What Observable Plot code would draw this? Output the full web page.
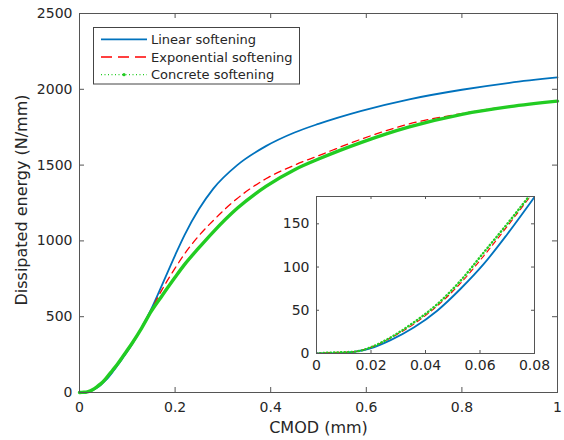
<!DOCTYPE html>
<html>
<head>
<meta charset="utf-8">
<script src="https://cdn.jsdelivr.net/npm/d3@7"></script>
<script src="https://cdn.jsdelivr.net/npm/@observablehq/plot@0.6"></script>
<style>
  html, body { margin: 0; padding: 0; background: white; }
  #wrap { position: relative; width: 564px; height: 440px; font-family: "DejaVu Sans", sans-serif; }
  #wrap > * { position: absolute; }
</style>
</head>
<body>
<div id="wrap"></div>
<script>
// ---- data ----
const cmod = [0, 0.005, 0.0137, 0.0198, 0.0272, 0.0357, 0.0443, 0.0528, 0.0614, 0.07, 0.08, 0.09, 0.11, 0.13, 0.15, 0.173, 0.2, 0.22, 0.25, 0.28, 0.33, 0.39, 0.45, 0.5, 0.59, 0.69, 0.8, 0.9, 1.0];
const linearSoftening = [0, 0, 2, 6, 15.5, 30, 49.5, 74.6, 103.6, 138, 181, 225, 318, 428, 550, 712, 905, 1040, 1210, 1345, 1500, 1625, 1715, 1772, 1858, 1934, 1997, 2043, 2078];
const exponentialSoftening = [0, 1, 2, 7, 18, 34, 55, 81, 113, 147, 188, 232, 322, 428, 545, 680, 820, 915, 1035, 1135, 1280, 1410, 1500, 1562, 1672, 1772, 1840, 1888, 1922];
const concreteSoftening = [0, 1, 2, 7, 18.6, 36, 57, 84, 117, 150, 190, 235, 325, 425, 535, 640, 760, 845, 955, 1060, 1215, 1360, 1470, 1540, 1650, 1752, 1835, 1886, 1922];

const seriesNames = ["Linear softening", "Exponential softening", "Concrete softening"];
const seriesColors = ["#0072BD", "#FF0000", "#22CC22"];

const xTicks = [0, 0.2, 0.4, 0.6, 0.8, 1];
const yTicks = [0, 500, 1000, 1500, 2000, 2500];
const xDomain = [0, 1];
const yDomain = [0, 2500];

const insetXTicks = [0, 0.02, 0.04, 0.06, 0.08];
const insetYTicks = [0, 50, 100, 150];
const insetXDomain = [0, 0.08];
const insetYDomain = [0, 181.6];

const xLabel = "CMOD (mm)";
const yLabel = "Dissipated energy (N/mm)";

// ---- build tables ----
const seriesValues = [linearSoftening, exponentialSoftening, concreteSoftening];
const rows = seriesNames.map((name, k) => cmod.map((x, i) => ({x, y: seriesValues[k][i], series: name})));
const [linRows, expRows, conRows] = rows;

const axisColor = "#555";
const textColor = "#262626";
const fmt = d => String(d);

// ---- main chart ----
const W = 564, H = 440, mL = 79, mR = 7, mT = 13, mB = 48;
const fW = W - mL - mR, fH = H - mT - mB;
const tick = 5;

const main = Plot.plot({
  width: W, height: H,
  marginLeft: mL, marginRight: mR, marginTop: mT, marginBottom: mB,
  x: {domain: xDomain},
  y: {domain: yDomain},
  style: {fontFamily: "DejaVu Sans", background: "transparent", color: textColor, overflow: "visible"},
  marks: [
    Plot.lineY(linRows, {x: "x", y: "y", stroke: seriesColors[0], strokeWidth: 1.8, curve: "monotone-x"}),
    Plot.lineY(expRows, {x: "x", y: "y", stroke: seriesColors[1], strokeWidth: 1.3, strokeDasharray: "7,5", curve: "monotone-x"}),
    Plot.lineY(conRows, {x: "x", y: "y", stroke: seriesColors[2], strokeWidth: 3.4, curve: "monotone-x"}),
    Plot.frame({stroke: axisColor}),
    Plot.tickX(xTicks, {x: d => d, stroke: axisColor, insetTop: fH - tick}),
    Plot.tickX(xTicks, {x: d => d, stroke: axisColor, insetBottom: fH - tick}),
    Plot.tickY(yTicks, {y: d => d, stroke: axisColor, insetRight: fW - tick}),
    Plot.tickY(yTicks, {y: d => d, stroke: axisColor, insetLeft: fW - tick}),
    Plot.axisX(xTicks, {tickSize: 0, tickPadding: 10, fontSize: 14, tickFormat: fmt, label: null}),
    Plot.axisY(yTicks, {tickSize: 0, tickPadding: 7, fontSize: 14, tickFormat: fmt, label: null}),
    Plot.text([xLabel], {frameAnchor: "bottom", textAnchor: "middle", lineAnchor: "middle", dy: 35, fontSize: 16, text: d => d}),
    Plot.text([yLabel], {frameAnchor: "left", textAnchor: "middle", lineAnchor: "middle", dx: -58, dy: -3, rotate: -90, fontSize: 16, text: d => d})
  ]
});
main.style.left = "0px"; main.style.top = "0px";
document.getElementById("wrap").appendChild(main);

// ---- inset ----
const iW = 270, iH = 187, imL = 40, imR = 12, imT = 6, imB = 24;
const ifW = iW - imL - imR, ifH = iH - imT - imB;
const itick = 3;
const inRange = r => r.filter(d => d.x <= insetXDomain[1] + 1e-9);

const inset = Plot.plot({
  width: iW, height: iH,
  marginLeft: imL, marginRight: imR, marginTop: imT, marginBottom: imB,
  x: {domain: insetXDomain},
  y: {domain: insetYDomain},
  style: {fontFamily: "DejaVu Sans", background: "transparent", color: textColor, overflow: "visible"},
  marks: [
    Plot.frame({fill: "white"}),
    Plot.lineY(inRange(linRows), {x: "x", y: "y", stroke: seriesColors[0], strokeWidth: 1.8, curve: "monotone-x", clip: true}),
    Plot.lineY(inRange(expRows), {x: "x", y: "y", stroke: seriesColors[1], strokeWidth: 1.1, strokeDasharray: "5,4", curve: "monotone-x", clip: true}),
    Plot.lineY(inRange(conRows), {x: "x", y: "y", stroke: seriesColors[2], strokeWidth: 2.4, strokeDasharray: "0.5,3", strokeLinecap: "round", curve: "monotone-x", clip: true}),
    Plot.frame({stroke: axisColor}),
    Plot.tickX(insetXTicks, {x: d => d, stroke: axisColor, insetTop: ifH - itick}),
    Plot.tickX(insetXTicks, {x: d => d, stroke: axisColor, insetBottom: ifH - itick}),
    Plot.tickY(insetYTicks, {y: d => d, stroke: axisColor, insetRight: ifW - itick}),
    Plot.tickY(insetYTicks, {y: d => d, stroke: axisColor, insetLeft: ifW - itick}),
    Plot.axisX(insetXTicks, {tickSize: 0, tickPadding: 7, fontSize: 14, tickFormat: fmt, label: null}),
    Plot.axisY(insetYTicks, {tickSize: 0, tickPadding: 7, fontSize: 14, tickFormat: fmt, label: null})
  ]
});
inset.style.left = "276px"; inset.style.top = "190px";
document.getElementById("wrap").appendChild(inset);

// ---- legend ----
const lg = d3.create("svg").attr("width", 208).attr("height", 58)
  .style("left", "93px").style("top", "27px").style("overflow", "visible");
lg.append("rect").attr("x", 0.5).attr("y", 0.5).attr("width", 206).attr("height", 56.5)
  .attr("fill", "white").attr("stroke", "#444").attr("stroke-width", 1);
const rowY = [12.3, 30, 47.7];
seriesNames.forEach((name, i) => {
  const g = lg.append("g").attr("transform", `translate(0,${rowY[i]})`);
  const ln = g.append("line").attr("x1", 8).attr("x2", 54).attr("y1", 0).attr("y2", 0)
    .attr("stroke", seriesColors[i]);
  if (i === 0) ln.attr("stroke-width", 1.8);
  if (i === 1) ln.attr("stroke-width", 1.3).attr("stroke-dasharray", "11,6");
  if (i === 2) {
    ln.attr("stroke-width", 1.2).attr("stroke-dasharray", "1,2.5");
    g.append("circle").attr("cx", 31).attr("cy", 0).attr("r", 1.6).attr("fill", seriesColors[i]);
  }
  g.append("text").attr("x", 58).attr("y", 0).attr("dy", "0.35em")
    .attr("font-family", "DejaVu Sans").attr("font-size", 13).attr("fill", textColor)
    .text(name);
});
document.getElementById("wrap").appendChild(lg.node());
</script>
</body>
</html>
